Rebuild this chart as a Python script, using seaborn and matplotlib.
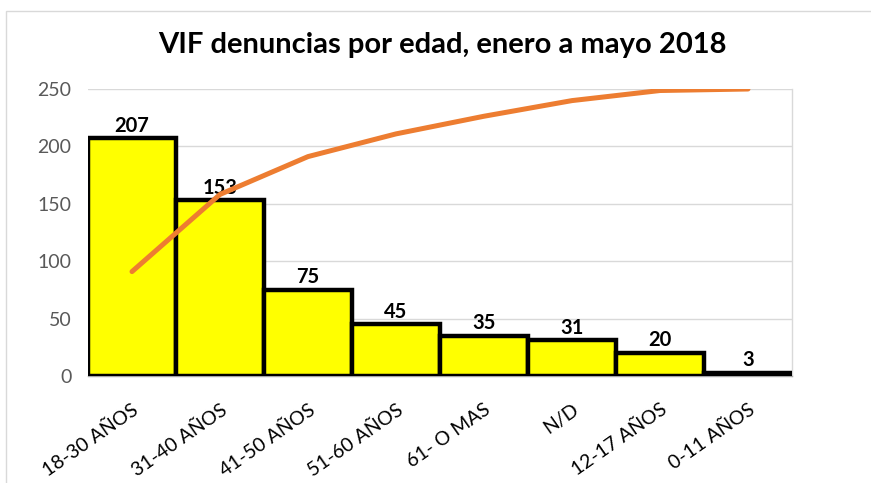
import numpy as np
import pandas as pd
import matplotlib
matplotlib.use("Agg")
import matplotlib.pyplot as plt
import seaborn as sns
from matplotlib.patches import Rectangle

categories = ["18-30 AÑOS", "31-40 AÑOS", "41-50 AÑOS", "51-60 AÑOS",
              "61- O MAS", "N/D", "12-17 AÑOS", "0-11 AÑOS"]
values = [207, 153, 75, 45, 35, 31, 20, 3]
y_ticks = [0, 50, 100, 150, 200, 250]
title = "VIF denuncias por edad, enero a mayo 2018"

df = pd.DataFrame({"cat": categories, "val": values})
cum_pct = np.cumsum(values) / np.sum(values) * 100

sns.set_theme(style="white")
plt.rcParams["font.family"] = ["Lato", "DejaVu Sans"]

W, H = 871, 483
fig = plt.figure(figsize=(W / 100, H / 100), dpi=100)
ax = fig.add_axes([88 / W, 1 - 376 / H, (792 - 88) / W, (376 - 89) / H])

# outer chart border
fig.patches.append(Rectangle((6 / W, -0.1), 2.0, 1 - 11 / H + 0.1,
                             transform=fig.transFigure, fill=False,
                             edgecolor="#D9D9D9", linewidth=1.0, zorder=0))

sns.barplot(data=df, x="cat", y="val", color="#FFFF00", edgecolor="black",
            linewidth=3.2, width=1.0, saturation=1, ax=ax, zorder=3)
ax.set_ylim(0, 250)
ax.set_xlim(-0.5, len(categories) - 0.5)
ax.set_yticks(y_ticks)
ax.set_yticklabels([str(t) for t in y_ticks], fontsize=14, color="#595959")
ax.tick_params(axis="y", length=0, pad=12)
ax.tick_params(axis="x", length=0, pad=18)
ax.set_xticks(range(len(categories)))
ax.set_xticklabels(categories, rotation=35, ha="right", va="top",
                   rotation_mode="anchor", fontsize=14, color="black")
ax.set_xlabel("")
ax.set_ylabel("")
ax.yaxis.grid(True, color="#D9D9D9", linewidth=1.0, zorder=0)
ax.set_axisbelow(True)
for s in ["left", "top"]:
    ax.spines[s].set_visible(False)
ax.spines["right"].set_color("#D9D9D9")
ax.spines["right"].set_linewidth(1.0)
ax.spines["bottom"].set_color("#A6A6A6")
ax.spines["bottom"].set_linewidth(1.0)

for cont in ax.containers:
    ax.bar_label(cont, labels=[str(v) for v in values], padding=2,
                 fontsize=14.5, fontweight="bold", color="black")

ax2 = ax.twinx()
sns.lineplot(x=np.arange(len(categories)), y=cum_pct, sort=False,
             color="#ED7D31", linewidth=3.6, ax=ax2, zorder=5)
ax2.set_ylim(0, 100)
ax2.set_axis_off()
ax2.set_xlim(ax.get_xlim())

fig.text(442 / W, 1 - 45 / H, title, ha="center", va="center",
         fontsize=21, fontweight="bold", color="black")

fig.savefig("out.png", dpi=100)
